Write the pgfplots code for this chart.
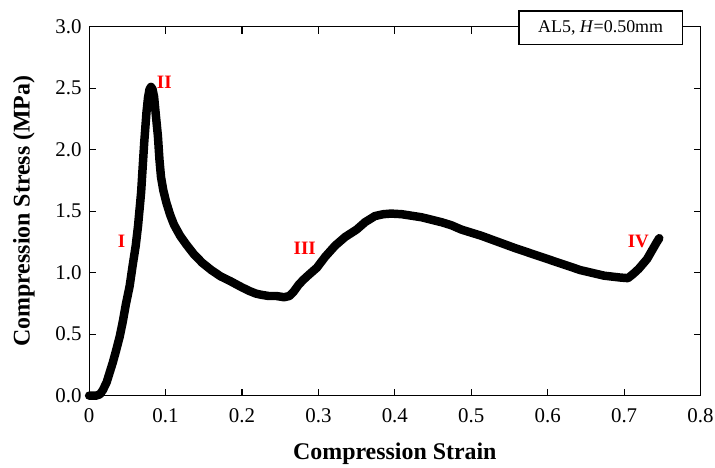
\documentclass[border=0pt]{standalone}
\usepackage{fontspec}
\setmainfont{Liberation Serif}
\usepackage{pgfplots}
\pgfplotsset{compat=1.18}

\begin{document}
\begin{tikzpicture}
\useasboundingbox (-89.5pt,-71.7pt) rectangle (628.5pt,397.3pt);
\begin{axis}[
    at={(0,0)}, anchor=south west,
    scale only axis,
    width=614pt, height=370.6pt,
    xmin=0, xmax=0.8, ymin=0, ymax=3,
    xtick={0,0.1,...,0.8},
    xticklabels={0,0.1,0.2,0.3,0.4,0.5,0.6,0.7,0.8},
    ytick={0,0.5,...,3},
    yticklabels={0.0,0.5,1.0,1.5,2.0,2.5,3.0},
    tick align=inside,
    major tick length=7pt,
    tick style={line width=1.2pt, black},
    axis line style={line width=1.2pt},
    ticklabel style={font=\fontsize{21}{23}\selectfont},
    xticklabel style={yshift=-9pt},
    yticklabel style={xshift=-4pt},
    xlabel={\textbf{Compression Strain}},
    ylabel={\textbf{Compression Stress (MPa)}},
    label style={font=\fontsize{24}{26}\selectfont},
    xlabel style={yshift=-14pt},
    ylabel style={yshift=14pt},
    clip=false,
]
\addplot[black, line width=8.5pt, line join=round, line cap=round] coordinates {
(0,0) (0.009,0) (0.014,0.01) (0.018,0.045) (0.023,0.11) (0.027,0.19)
(0.031,0.27) (0.035,0.36) (0.040,0.48) (0.044,0.60) (0.048,0.74)
(0.053,0.89) (0.057,1.06) (0.061,1.22) (0.064,1.38) (0.068,1.65)
(0.072,2.05) (0.075,2.30) (0.077,2.42) (0.079,2.49) (0.081,2.51)
(0.083,2.49) (0.085,2.43) (0.087,2.30) (0.090,2.11) (0.092,1.92)
(0.094,1.78) (0.097,1.67) (0.101,1.57) (0.106,1.47) (0.111,1.39)
(0.119,1.30) (0.127,1.23) (0.137,1.15) (0.148,1.08) (0.160,1.02)
(0.172,0.97) (0.185,0.93) (0.200,0.88) (0.210,0.85) (0.218,0.83)
(0.225,0.82) (0.235,0.81) (0.245,0.81) (0.255,0.80) (0.262,0.81)
(0.267,0.84) (0.274,0.90) (0.280,0.94) (0.287,0.98) (0.298,1.04)
(0.309,1.13) (0.322,1.22) (0.335,1.29) (0.350,1.35) (0.361,1.41)
(0.374,1.46) (0.385,1.475) (0.395,1.48) (0.409,1.475) (0.435,1.45)
(0.461,1.41) (0.474,1.385) (0.487,1.35) (0.513,1.30) (0.557,1.20)
(0.600,1.11) (0.643,1.02) (0.674,0.975) (0.695,0.96) (0.705,0.955)
(0.712,0.99) (0.719,1.03) (0.730,1.11) (0.742,1.24) (0.746,1.28)
};
\node[text=red, font=\fontsize{19}{20}\selectfont\bfseries] at (axis cs:0.0423,1.255) {I};
\node[text=red, font=\fontsize{19}{20}\selectfont\bfseries] at (axis cs:0.0984,2.549) {II};
\node[text=red, font=\fontsize{19}{20}\selectfont\bfseries] at (axis cs:0.2821,1.199) {III};
\node[text=red, font=\fontsize{19}{20}\selectfont\bfseries] at (axis cs:0.7186,1.255) {IV};
\node[draw=black, line width=1.2pt, fill=white, minimum width=164pt, minimum height=34pt,
      font=\fontsize{18}{20}\selectfont] at (rel axis cs:0.8366,0.9965) {AL5, \textit{H}=0.50mm};
\end{axis}
\end{tikzpicture}
\end{document}
